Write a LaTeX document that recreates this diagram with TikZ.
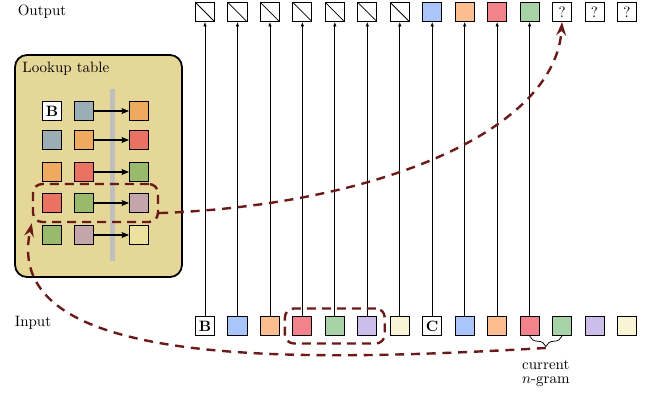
\documentclass[tikz,border=0pt]{standalone}
\usepackage{tikz}
\usepackage{amsmath}
\usetikzlibrary{calc}
\usetikzlibrary{positioning,fit,arrows.meta}
\usetikzlibrary{decorations.pathreplacing}
\definecolor{inblue}{HTML}{A9C5FA}
\definecolor{inorange}{HTML}{FDBE8F}
\definecolor{inred}{HTML}{F4828A}
\definecolor{ingreen}{HTML}{A7D2A6}
\definecolor{inpurple}{HTML}{CDBDEB}
\definecolor{inyellow}{HTML}{F8F4D4}
\definecolor{lutbg}{HTML}{E5D798}
\definecolor{lutblue}{HTML}{9AAEB4}
\definecolor{lutorange}{HTML}{EEAA5F}
\definecolor{lutred}{HTML}{E97263}
\definecolor{lutgreen}{HTML}{99B96B}
\definecolor{lutmauve}{HTML}{C4A6AA}
\definecolor{lutyellow}{HTML}{EDE1A0}
\definecolor{darkred}{HTML}{6B1A1A}
\tikzstyle{tok}=[draw, line width=0.6pt, minimum size=12.7pt, inner sep=0pt]
\tikzstyle{nulltok}=[tok, fill=white, path picture={\draw[line width=0.5pt] (path picture bounding box.north west) -- (path picture bounding box.south east);}]
\tikzstyle{link}=[line width=0.5pt, -{Latex[length=3pt,width=2.4pt]}]
\tikzstyle{lutarrow}=[line width=0.7pt, -{Stealth[length=5pt,width=4pt,inset=1pt]}]
\tikzstyle{lutbox}=[draw, line width=1.2pt, fill=lutbg, rounded corners=8pt]
\tikzstyle{hilite}=[draw=darkred, line width=1.6pt, dash pattern=on 6pt off 4pt, rounded corners=6pt]
\tikzstyle{jump}=[darkred, line width=1.6pt, dash pattern=on 6pt off 4.5pt, -{Stealth[length=9pt,width=6.5pt,inset=3pt]}]

\begin{document}
\begin{tikzpicture}[x=0.6667pt, y=-0.6667pt]
          \useasboundingbox (0,0) rectangle (650,394);
          %etiquetas
          \node (outlabel) at (42,12) {Output};
          \node (inlabel) at (33,323) {Input};
          %tabla
          \node[lutbox, minimum width=111.3pt, minimum height=148pt] (lut) at (98.5,166) {};
          \node[anchor=north west] (luttitle) at ($(lut.north west)+(3,3)$) {Lookup table};
          \draw[gray!50, line width=3.3pt] (112.5,89) -- (112.5,261);
          \foreach \r/\a/\b/\c/\y/\txt in {1/white/lutblue/lutorange/111/\textbf{B},
              2/lutblue/lutorange/lutred/140/{}, 3/lutorange/lutred/lutgreen/172/{},
              4/lutred/lutgreen/lutmauve/203/{}, 5/lutgreen/lutmauve/lutyellow/235/{}}{
            \node[tok, fill=\a] (k\r a) at (52,\y) {\txt};
            \node[tok, fill=\b] (k\r b) at (84,\y) {};
            \node[tok, fill=\c] (k\r c) at (139,\y) {};
            \draw[lutarrow] (k\r b) -- (k\r c);
          }
          %entrada
          \foreach \i/\c/\txt in {1/white/\textbf{B}, 2/inblue/{}, 3/inorange/{}, 4/inred/{},
              5/ingreen/{}, 6/inpurple/{}, 7/inyellow/{}, 8/white/\textbf{C}, 9/inblue/{},
              10/inorange/{}, 11/inred/{}, 12/ingreen/{}, 13/inpurple/{}, 14/inyellow/{}}
            \node[tok, fill=\c] (in\i) at ({205+32.46*(\i-1)},326) {\txt};
          %salida
          \foreach \i in {1,...,7}
            \node[nulltok] (out\i) at ({205+32.46*(\i-1)},12) {};
          \foreach \i/\c in {8/inblue, 9/inorange, 10/inred, 11/ingreen}
            \node[tok, fill=\c] (out\i) at ({205+32.46*(\i-1)},12) {};
          \foreach \i in {12,13,14}
            \node[tok, fill=white] (out\i) at ({205+32.46*(\i-1)},12) {?};
          \foreach \i in {1,...,11}
            \draw[link] (in\i) -- (out\i);
          %n-grama
          \node[hilite, fit=(k4a)(k4c), inner sep=6pt] (tabhl) {};
          \node[hilite, fit=(in4)(in6), inner sep=5pt] (inhl) {};
          \draw[decorate, decoration={brace, mirror, amplitude=7pt}, line width=0.5pt] (in11.south) -- (in12.south);
          \coordinate (ngtip) at ($(in11.south)!0.5!(in12.south)+(0,12)$);
          \node[below=7pt of ngtip, align=center, inner sep=1pt] (ngram) {current\\[-3pt]$n$-gram};
          \draw[jump] ($(tabhl.east)!0.5!(tabhl.south east)$) .. controls (380,205) and (555,130) .. (out12.south);
          \draw[jump] (ngtip) .. controls (300,362) and (0,370) .. (tabhl.south west);
\end{tikzpicture}
\end{document}
